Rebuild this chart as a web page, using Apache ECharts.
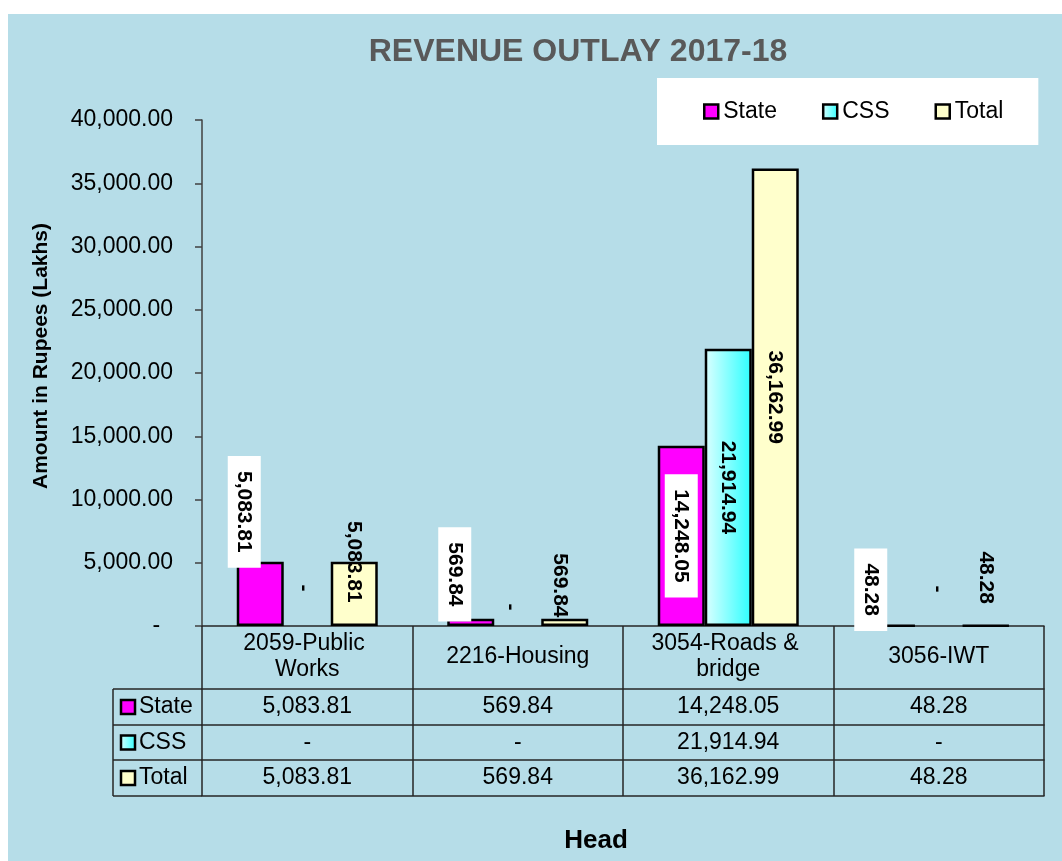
<!DOCTYPE html>
<html>
<head>
<meta charset="utf-8">
<title>Revenue Outlay 2017-18</title>
<script src="https://cdn.jsdelivr.net/npm/echarts@6/dist/echarts.min.js"></script>
<style>
  html, body { margin: 0; padding: 0; background: #fff; width: 1062px; height: 861px; overflow: hidden; }
  #panel { position: absolute; left: 8px; top: 14px; right: 0; bottom: 0; background: #B6DDE8; }
  #chart { position: absolute; left: 0; top: 0; width: 1062px; height: 861px; }
</style>
</head>
<body>
<div id="panel"></div>
<div id="chart"></div>
<script>
// ---- data ----
const heads = ['2059-Public Works', '2216-Housing', '3054-Roads & bridge', '3056-IWT'];
const seriesNames = ['State', 'CSS', 'Total'];
const stateOutlay = [5083.81, 569.84, 14248.05, 48.28];
const cssOutlay = [0, 0, 21914.94, 0];
const totalOutlay = [5083.81, 569.84, 36162.99, 48.28];
const yMin = 0, yMax = 40000, yStep = 5000;

// ---- styling ----
const FONT = '"Liberation Sans", Arial, sans-serif';
const LINE = '#262626';
const cssGradient = () => new echarts.graphic.LinearGradient(0, 0, 1, 0, [
  { offset: 0, color: '#DDFFFF' },
  { offset: 1, color: '#2CFFFF' }
]);
const colors = ['#FF00FF', cssGradient(), '#FFFFCC'];

// label nudges in screen px [right, down] from the bar centre,
// used for labels that sit outside short bars
const labelNudge = [
  [[-16, -82], [-16, -48], [0, 0], [-21, -36]],
  [[-3, -38], [-7, -19], [0, 0], [-1, -37]],
  [[0, -32], [-5, -37], [0, 0], [0, -48]]
];
// labels are turned 90deg clockwise, so the offset is given in the turned frame
const turnedOffset = ([sx, sy]) => [sy, -sx];

function fmt(v) {
  if (!v) return '-';
  const [i, d] = v.toFixed(2).split('.');
  return i.replace(/\B(?=(\d{3})+(?!\d))/g, ',') + '.' + d;
}

function barSeries(idx, values, boxed) {
  return {
    name: seriesNames[idx],
    type: 'bar',
    xAxisIndex: 0,
    barWidth: 47,
    barGap: '0%',
    itemStyle: { color: colors[idx], borderColor: '#000', borderWidth: 2.5 },
    label: {
      show: true,
      position: 'inside',
      rotate: -90,
      formatter: p => fmt(p.value),
      fontFamily: FONT,
      fontSize: 21,
      fontWeight: 'bold',
      color: '#000',
      backgroundColor: boxed ? '#fff' : 'transparent',
      padding: boxed ? [6, 15] : 0
    },
    data: values.map((v, i) => ({
      value: v,
      itemStyle: v === 0 ? { borderWidth: 0 } : undefined,
      label: { offset: turnedOffset(labelNudge[idx][i]) }
    }))
  };
}

function rowAxis(offset, values) {
  return {
    type: 'category',
    data: heads,
    position: 'bottom',
    offset: offset,
    axisLine: { show: true, lineStyle: { color: LINE, width: 1.5 } },
    axisTick: { show: false },
    axisLabel: {
      interval: 0, margin: 18, verticalAlign: 'middle',
      fontFamily: FONT, fontSize: 23, color: '#000',
      formatter: (val, i) => fmt(values[i])
    }
  };
}

const chart = echarts.init(document.getElementById('chart'), null, { renderer: 'canvas' });

// key column of the data table (left of the plot)
const keyRows = [707, 742.5, 778];
const keyGraphics = [];
[689, 725, 760, 796].forEach(y => keyGraphics.push({
  type: 'line', shape: { x1: 113, y1: y, x2: 202, y2: y },
  style: { stroke: LINE, lineWidth: 1.5 }
}));
keyGraphics.push({
  type: 'line', shape: { x1: 113, y1: 689, x2: 113, y2: 796 },
  style: { stroke: LINE, lineWidth: 1.5 }
});
seriesNames.forEach((n, i) => {
  keyGraphics.push({
    type: 'rect', shape: { x: 121, y: keyRows[i] - 7, width: 14, height: 14 },
    style: { fill: i === 1 ? cssGradient() : colors[i], stroke: '#000', lineWidth: 2.5 }
  });
  keyGraphics.push({
    type: 'text', x: 139, y: keyRows[i],
    style: { text: n, fill: '#000', font: '23px ' + FONT, verticalAlign: 'middle', align: 'left' }
  });
});

chart.setOption({
  animation: false,
  textStyle: { fontFamily: FONT },
  graphic: [
    {
      type: 'text', x: 578, y: 52,
      style: {
        text: 'REVENUE OUTLAY 2017-18', fill: '#595959',
        font: 'bold 32px ' + FONT, align: 'center', verticalAlign: 'middle'
      }
    }
  ].concat(keyGraphics),
  legend: {
    left: 657, top: 78,
    backgroundColor: '#fff',
    padding: [22, 35, 22, 46],
    itemWidth: 14, itemHeight: 14, itemGap: 45,
    icon: 'rect',
    itemStyle: { borderColor: '#000', borderWidth: 2.5 },
    textStyle: { fontFamily: FONT, fontSize: 23, color: '#000' },
    data: seriesNames
  },
  grid: { left: 202, right: 18, top: 120, bottom: 235, outerBoundsMode: 'none', containLabel: false },
  xAxis: [
    {
      type: 'category',
      data: heads,
      position: 'bottom',
      axisLine: { show: true, lineStyle: { color: LINE, width: 1.5 } },
      axisTick: { show: true, length: 170, interval: 0, lineStyle: { color: LINE, width: 1.5 } },
      axisLabel: {
        interval: 0, margin: 31, verticalAlign: 'middle',
        fontFamily: FONT, fontSize: 23, lineHeight: 26, color: '#000',
        width: 180, overflow: 'break', align: 'center'
      }
    },
    rowAxis(63, stateOutlay),
    rowAxis(99, cssOutlay),
    rowAxis(134, totalOutlay),
    {
      type: 'category',
      data: heads,
      position: 'bottom',
      offset: 170,
      axisLine: { show: true, lineStyle: { color: LINE, width: 1.5 } },
      axisTick: { show: false },
      axisLabel: { show: false },
      name: 'Head',
      nameLocation: 'middle',
      nameGap: 32,
      nameMoveOverlap: false,
      nameTextStyle: { fontFamily: FONT, fontSize: 26, fontWeight: 'bold', color: '#000', padding: [0, 54, 0, 0] }
    }
  ],
  yAxis: {
    type: 'value',
    min: yMin, max: yMax, interval: yStep,
    axisLine: { show: true, lineStyle: { color: '#404040', width: 1.5 } },
    axisTick: { show: true, length: 7, lineStyle: { color: '#404040', width: 1.5 } },
    splitLine: { show: false },
    axisLabel: {
      margin: 29, fontFamily: FONT, fontSize: 23, color: '#000',
      formatter: v => (v === 0 ? '-  ' : fmt(v))
    },
    name: 'Amount in Rupees (Lakhs)',
    nameLocation: 'middle',
    nameRotate: 90,
    nameGap: 150,
    nameMoveOverlap: false,
    nameTextStyle: { fontFamily: FONT, fontSize: 21, fontWeight: 'bold', color: '#000', padding: [0, 0, 0, 34] }
  },
  series: [
    barSeries(0, stateOutlay, true),
    barSeries(1, cssOutlay, false),
    barSeries(2, totalOutlay, false)
  ]
});
</script>
</body>
</html>
